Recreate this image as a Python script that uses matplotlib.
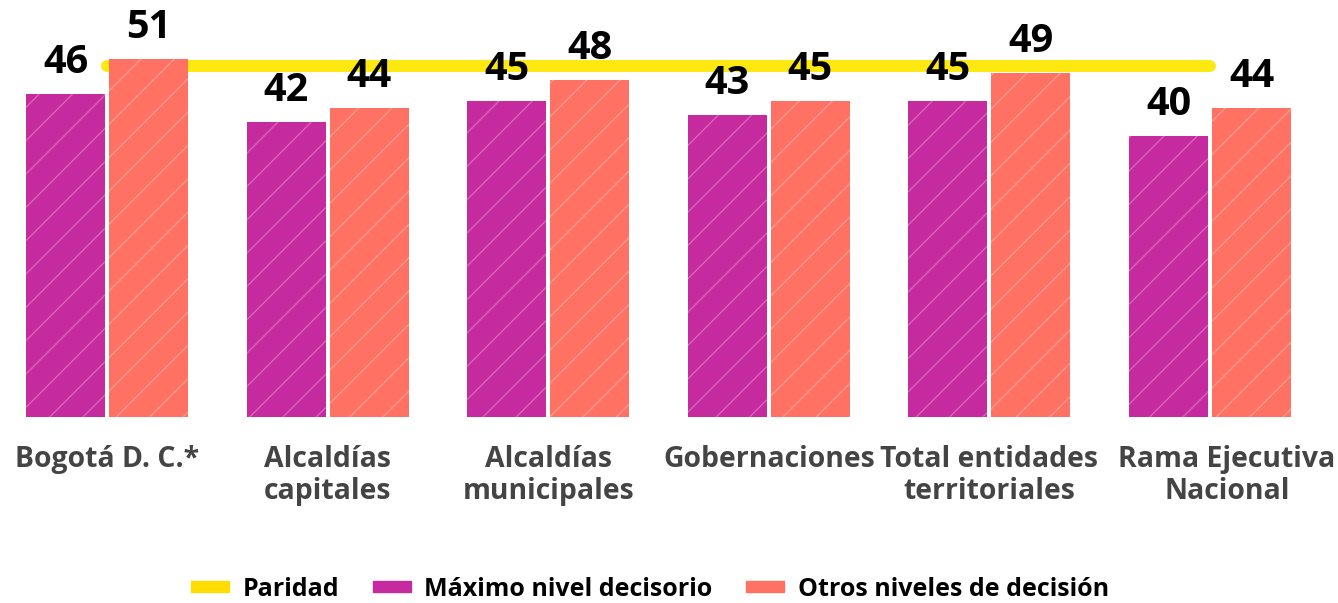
import matplotlib.pyplot as plt
import matplotlib.transforms as mtransforms
from matplotlib.patches import Patch

categories = ['Bogotá D. C.*', 'Alcaldías\ncapitales', 'Alcaldías\nmunicipales',
              'Gobernaciones', 'Total entidades\nterritoriales', 'Rama Ejecutiva\nNacional']
maximo = [46, 42, 45, 43, 45, 40]
otros = [51, 44, 48, 45, 49, 44]
paridad = 50

purple = '#C52A9E'
coral = '#FF7163'
yellow = '#FDE90F'

plt.rcParams['font.family'] = ['Open Sans', 'DejaVu Sans']

fig = plt.figure(figsize=(13.38, 6.03), dpi=100)
ax = fig.add_axes([0, 0.3085, 1, 0.6915])

x = list(range(len(categories)))
w = 0.358
off = 0.188

# linea de paridad por detras de las barras
ax.plot([x[0], x[-1]], [paridad, paridad], color=yellow, linewidth=8.6,
        solid_capstyle='round', zorder=1)

b1 = ax.bar([i - off for i in x], maximo, w, color=purple, edgecolor=(1, 1, 1, 0.28),
            linewidth=0, hatch='/', zorder=2)
b2 = ax.bar([i + off for i in x], otros, w, color=coral, edgecolor=(1, 1, 1, 0.28),
            linewidth=0, hatch='/', zorder=2)

for bars in (b1, b2):
    for r in bars:
        ax.annotate(str(int(r.get_height())), (r.get_x() + r.get_width() / 2, r.get_height()),
                    xytext=(0, 15), textcoords='offset points', ha='center', va='baseline',
                    fontsize=28.5, fontweight='bold', color='black', zorder=5)

ax.set_xlim(-0.485, 5.58)
ax.set_ylim(0, 59.4)
ax.set_xticks(x)
ax.set_xticklabels(categories, fontsize=20.4, fontweight='bold', color='#444444',
                   linespacing=1.13)
ax.tick_params(axis='x', length=0, pad=20)
ax.set_yticks([])
for s in ax.spines.values():
    s.set_visible(False)

# la ultima etiqueta va un poco corrida a la derecha
lbl = ax.get_xticklabels()[-1]
lbl.set_transform(lbl.get_transform() + mtransforms.ScaledTranslation(0.17, 0, fig.dpi_scale_trans))

handles = [Patch(color='#FFDD00', label='Paridad'),
           Patch(color=purple, label='Máximo nivel decisorio'),
           Patch(color=coral, label='Otros niveles de decisión')]
leg = fig.legend(handles=handles, loc='center', bbox_to_anchor=(650 / 1338, 1 - 589 / 603),
                 ncol=3, frameon=False, prop={'size': 18, 'weight': 'bold'},
                 handlelength=1.5, handleheight=0.34, handletextpad=0.55, columnspacing=1.35)

plt.savefig('out.png', dpi=100)
